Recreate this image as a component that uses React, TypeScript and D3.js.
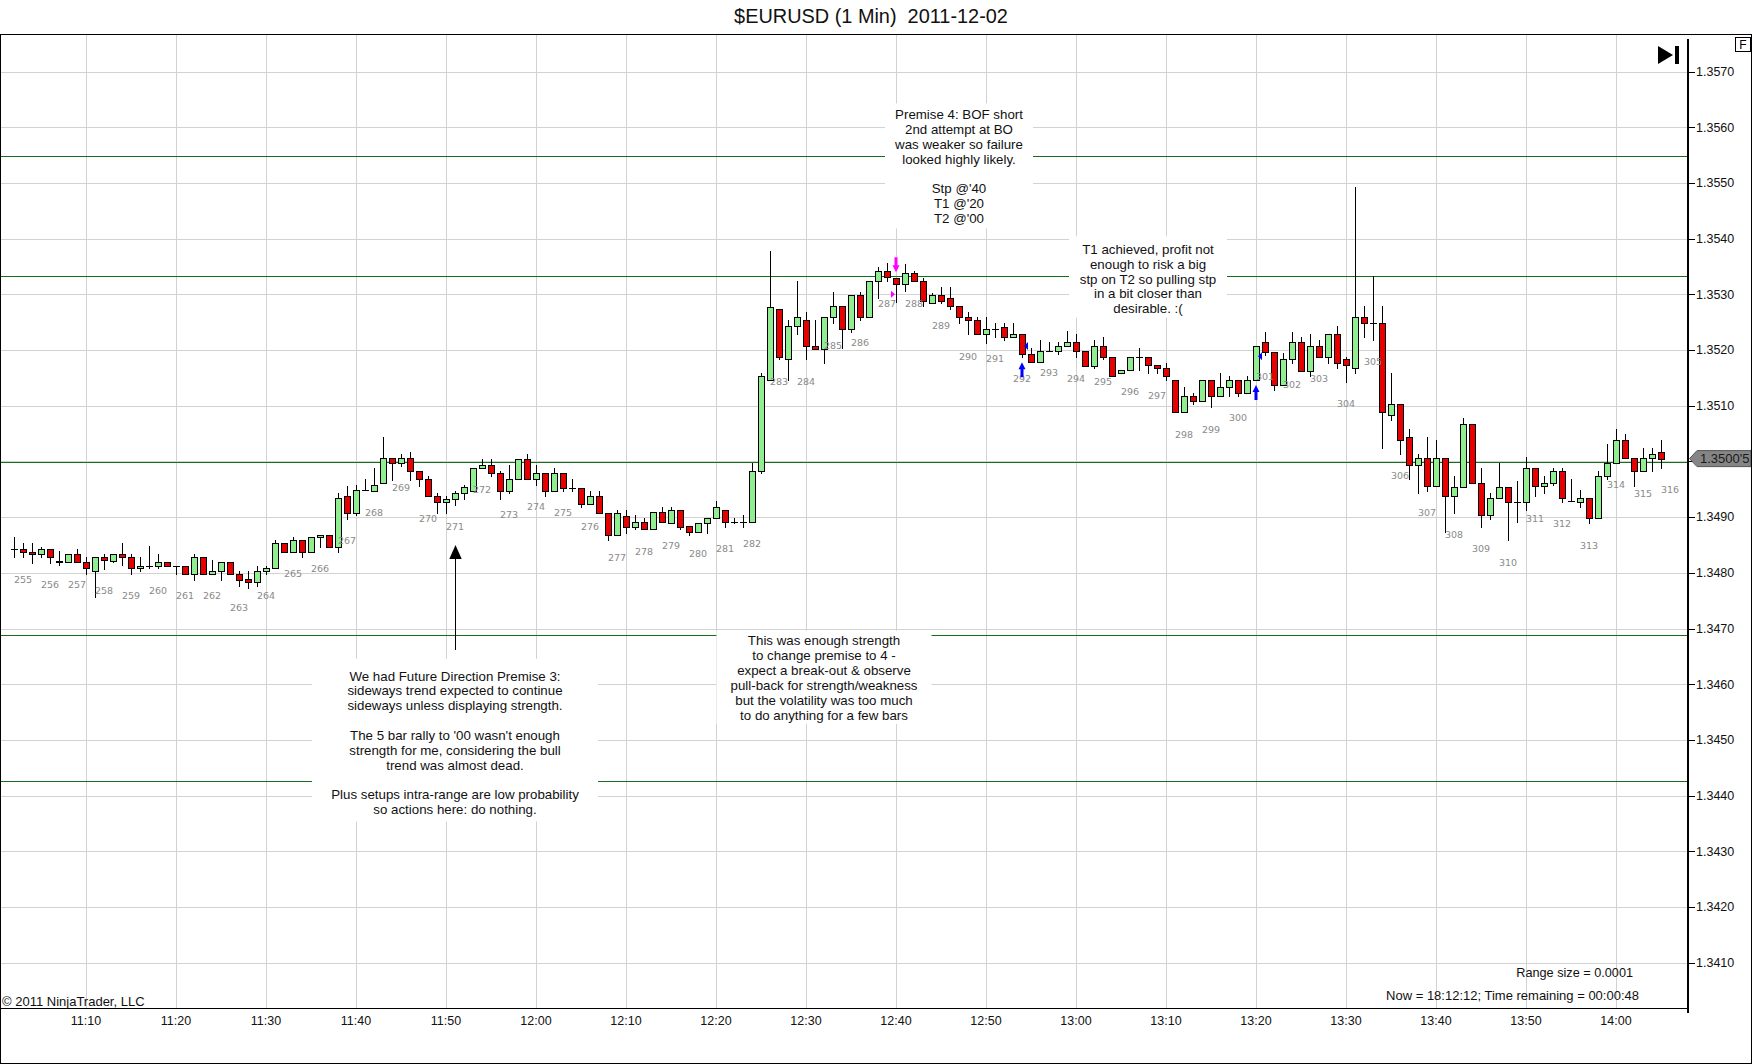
import React from 'react';
import * as d3 from 'd3';

const WIDTH = 1752;
const HEIGHT = 1064;

// 1-minute bars, first bar 11:02
const opens = [
  1.34842, 1.34842, 1.34838, 1.34834, 1.34842, 1.34822, 1.34819, 1.34833, 1.34819, 1.34803,
  1.34828, 1.34822, 1.34833, 1.34828, 1.34808, 1.34813, 1.34813, 1.34819, 1.34813, 1.34813,
  1.34798, 1.34828, 1.34798, 1.34803, 1.34819, 1.34798, 1.34788, 1.34783, 1.34803, 1.34808,
  1.34853, 1.34838, 1.34858, 1.34838, 1.34864, 1.34867, 1.34847, 1.34938, 1.34908, 1.34949,
  1.34947, 1.34962, 1.35007, 1.34998, 1.35007, 1.34982, 1.34968, 1.34937, 1.34928, 1.34933,
  1.34943, 1.34947, 1.34988, 1.34993, 1.34979, 1.34947, 1.34968, 1.35004, 1.34968, 1.34979,
  1.34947, 1.34979, 1.34953, 1.34953, 1.34923, 1.34938, 1.34908, 1.34867, 1.34902, 1.34883,
  1.34892, 1.34878, 1.34909, 1.34889, 1.34913, 1.34884, 1.34873, 1.34889, 1.34898, 1.34913,
  1.34892, 1.34892, 1.34892, 1.34983, 1.35147, 1.35273, 1.35183, 1.35243, 1.35254, 1.35208,
  1.35202, 1.35259, 1.35279, 1.35237, 1.35299, 1.35259, 1.35323, 1.35342, 1.35329, 1.35318,
  1.35338, 1.35324, 1.35284, 1.35298, 1.35293, 1.35279, 1.35259, 1.35254, 1.35228, 1.35237,
  1.35242, 1.35223, 1.35228, 1.35192, 1.35178, 1.35198, 1.35198, 1.35208, 1.35214, 1.35198,
  1.35172, 1.35208, 1.35188, 1.35158, 1.35164, 1.35188, 1.35188, 1.35173, 1.35167, 1.35147,
  1.35088, 1.35118, 1.35108, 1.35147, 1.35118, 1.35133, 1.35147, 1.35123, 1.35147, 1.35214,
  1.35197, 1.35138, 1.35183, 1.35214, 1.35163, 1.35208, 1.35188, 1.35228, 1.35183, 1.35167,
  1.35259, 1.35248, 1.35248, 1.35083, 1.35103, 1.35043, 1.34994, 1.35007, 1.34956, 1.35007,
  1.34937, 1.34954, 1.35068, 1.34962, 1.34903, 1.34934, 1.34954, 1.34928, 1.34928, 1.34988,
  1.34956, 1.34962, 1.34982, 1.34929, 1.34928, 1.34934, 1.34898, 1.34973, 1.34998, 1.35038,
  1.35007, 1.34982, 1.35007, 1.35017,
];

const highs = [
  1.34864, 1.34853, 1.34853, 1.34847, 1.34842, 1.34839, 1.34833, 1.34842, 1.34828, 1.34828,
  1.34834, 1.34833, 1.34854, 1.34833, 1.34828, 1.34848, 1.34834, 1.34819, 1.34813, 1.34813,
  1.34834, 1.34828, 1.34823, 1.34819, 1.34819, 1.34803, 1.34803, 1.34813, 1.34813, 1.34859,
  1.34853, 1.34864, 1.34858, 1.34864, 1.34867, 1.34867, 1.34943, 1.34955, 1.34958, 1.34968,
  1.34988, 1.35044, 1.35007, 1.35013, 1.35017, 1.34982, 1.34973, 1.34943, 1.34937, 1.34947,
  1.34958, 1.34988, 1.35004, 1.35004, 1.34983, 1.34993, 1.35004, 1.35013, 1.34993, 1.34979,
  1.34988, 1.34979, 1.34968, 1.34953, 1.34947, 1.34947, 1.34908, 1.34913, 1.34913, 1.34903,
  1.34898, 1.34909, 1.34919, 1.34919, 1.34913, 1.34884, 1.34889, 1.34898, 1.34929, 1.34913,
  1.34898, 1.34903, 1.34998, 1.35158, 1.35378, 1.35273, 1.35254, 1.35324, 1.35269, 1.35254,
  1.35259, 1.35305, 1.35279, 1.35299, 1.35305, 1.35323, 1.35349, 1.35357, 1.35329, 1.35354,
  1.35341, 1.35329, 1.35303, 1.35314, 1.35314, 1.35279, 1.35269, 1.35259, 1.35259, 1.35248,
  1.35248, 1.35248, 1.35228, 1.35203, 1.35218, 1.35214, 1.35214, 1.35234, 1.35228, 1.35198,
  1.35218, 1.35223, 1.35188, 1.35164, 1.35188, 1.35203, 1.35188, 1.35173, 1.35177, 1.35147,
  1.35133, 1.35122, 1.35147, 1.35147, 1.35159, 1.35153, 1.35147, 1.35153, 1.35208, 1.35233,
  1.35197, 1.35194, 1.35233, 1.35224, 1.35228, 1.35218, 1.35228, 1.35243, 1.35188, 1.35493,
  1.35279, 1.35332, 1.35279, 1.35158, 1.35103, 1.35058, 1.35013, 1.35044, 1.35038, 1.35007,
  1.34973, 1.35078, 1.35068, 1.34988, 1.34943, 1.34998, 1.34954, 1.34964, 1.35008, 1.34988,
  1.34973, 1.34988, 1.34988, 1.34968, 1.34949, 1.34934, 1.34982, 1.35032, 1.35058, 1.35049,
  1.35007, 1.35024, 1.35024, 1.35038,
];

const lows = [
  1.34828, 1.34828, 1.34818, 1.34828, 1.34818, 1.34814, 1.34819, 1.34819, 1.34798, 1.34757,
  1.34807, 1.34819, 1.34814, 1.34798, 1.34803, 1.34808, 1.34808, 1.34813, 1.34798, 1.34798,
  1.34787, 1.34798, 1.34798, 1.34787, 1.34798, 1.34777, 1.34772, 1.34777, 1.34798, 1.34808,
  1.34838, 1.34838, 1.34828, 1.34838, 1.34847, 1.34847, 1.34838, 1.34897, 1.34903, 1.34949,
  1.34947, 1.34962, 1.34967, 1.34992, 1.34967, 1.34956, 1.34937, 1.34908, 1.34908, 1.34922,
  1.34933, 1.34947, 1.34988, 1.34973, 1.34933, 1.34943, 1.34968, 1.34968, 1.34958, 1.34938,
  1.34947, 1.34947, 1.34947, 1.34918, 1.34923, 1.34908, 1.34858, 1.34867, 1.34872, 1.34878,
  1.34878, 1.34878, 1.34892, 1.34889, 1.34878, 1.34867, 1.34873, 1.34872, 1.34898, 1.34883,
  1.34889, 1.34883, 1.34892, 1.34979, 1.35147, 1.35183, 1.35147, 1.35228, 1.35183, 1.35202,
  1.35177, 1.35248, 1.35203, 1.35233, 1.35253, 1.35259, 1.35293, 1.35323, 1.35287, 1.35306,
  1.35323, 1.35279, 1.35284, 1.35284, 1.35274, 1.35248, 1.35228, 1.35228, 1.35213, 1.35224,
  1.35218, 1.35223, 1.35188, 1.35178, 1.35178, 1.35198, 1.35192, 1.35208, 1.35188, 1.35172,
  1.35167, 1.35183, 1.35153, 1.35158, 1.35164, 1.35164, 1.35158, 1.35158, 1.35147, 1.35088,
  1.35088, 1.35103, 1.35108, 1.35097, 1.35118, 1.35118, 1.35118, 1.35123, 1.35147, 1.35191,
  1.35128, 1.35138, 1.35177, 1.35163, 1.35153, 1.35188, 1.35177, 1.35167, 1.35143, 1.35158,
  1.35224, 1.35218, 1.35024, 1.35074, 1.35013, 1.34968, 1.34943, 1.34947, 1.34956, 1.34873,
  1.34908, 1.34954, 1.34962, 1.34883, 1.34897, 1.34934, 1.34858, 1.34892, 1.34913, 1.34937,
  1.34943, 1.34958, 1.34928, 1.34929, 1.34918, 1.34889, 1.34898, 1.34968, 1.34998, 1.35007,
  1.34956, 1.34982, 1.34982, 1.34988,
];

const closes = [
  1.34842, 1.34838, 1.34834, 1.34842, 1.34828, 1.34819, 1.34833, 1.34819, 1.34808, 1.34828,
  1.34823, 1.34833, 1.34828, 1.34808, 1.34813, 1.34813, 1.34819, 1.34813, 1.34813, 1.34798,
  1.34828, 1.34798, 1.34803, 1.34819, 1.34798, 1.34787, 1.34783, 1.34803, 1.34808, 1.34853,
  1.34838, 1.34858, 1.34838, 1.34864, 1.34867, 1.34847, 1.34934, 1.34908, 1.34949, 1.34949,
  1.34958, 1.35007, 1.34998, 1.35007, 1.34982, 1.34968, 1.34937, 1.34928, 1.34933, 1.34943,
  1.34954, 1.34988, 1.34993, 1.34979, 1.34947, 1.34968, 1.35004, 1.34968, 1.34979, 1.34947,
  1.34979, 1.34953, 1.34953, 1.34923, 1.34938, 1.34908, 1.34867, 1.34908, 1.34883, 1.34892,
  1.34878, 1.34909, 1.34892, 1.34913, 1.34883, 1.34873, 1.34889, 1.34898, 1.34918, 1.34892,
  1.34892, 1.34892, 1.34983, 1.35153, 1.35278, 1.35188, 1.35243, 1.35259, 1.35208, 1.35202,
  1.35259, 1.35279, 1.35237, 1.35299, 1.35259, 1.35323, 1.35342, 1.35331, 1.35318, 1.35338,
  1.35324, 1.35288, 1.35298, 1.35288, 1.35279, 1.35259, 1.35254, 1.35228, 1.35237, 1.35237,
  1.35223, 1.35228, 1.35192, 1.35178, 1.35198, 1.35198, 1.35208, 1.35214, 1.35198, 1.35172,
  1.35208, 1.35188, 1.35153, 1.35164, 1.35188, 1.35188, 1.35173, 1.35167, 1.35153, 1.35088,
  1.35118, 1.35108, 1.35147, 1.35118, 1.35133, 1.35147, 1.35123, 1.35147, 1.35208, 1.35197,
  1.35138, 1.35183, 1.35214, 1.35163, 1.35208, 1.35188, 1.35228, 1.35177, 1.35173, 1.35259,
  1.35248, 1.35248, 1.35088, 1.35103, 1.35038, 1.34994, 1.35007, 1.34956, 1.35007, 1.34937,
  1.34954, 1.35068, 1.34962, 1.34903, 1.34934, 1.34954, 1.34928, 1.34928, 1.34988, 1.34956,
  1.34962, 1.34982, 1.34934, 1.34929, 1.34934, 1.34898, 1.34973, 1.34998, 1.35038, 1.35007,
  1.34982, 1.35007, 1.35013, 1.35005,
];

// bar count labels, one every third bar
const barNumbers = [
  255, 256, 257, 258, 259, 260, 261, 262, 263, 264, 265, 266, 267, 268, 269, 270,
  271, 272, 273, 274, 275, 276, 277, 278, 279, 280, 281, 282, 283, 284, 285, 286,
  287, 288, 289, 290, 291, 292, 293, 294, 295, 296, 297, 298, 299, 300, 301, 302,
  303, 304, 305, 306, 307, 308, 309, 310, 311, 312, 313, 314, 315, 316,
];

const priceTicks = [
  1.341, 1.342, 1.343, 1.344, 1.345, 1.346, 1.347, 1.348, 1.349,
  1.35, 1.351, 1.352, 1.353, 1.354, 1.355, 1.356, 1.357,
];

// horizontal S/R lines
const levels = [1.35548, 1.35333, 1.34999, 1.34688, 1.34426];

const notes = [
  {
    bar: 105, price: 1.35623, width: 148, padTop: 11, padBottom: 10,
    lines: ['Premise 4: BOF short', '2nd attempt at BO', 'was weaker so failure', 'looked highly likely.', '', "Stp @'40", "T1 @'20", "T2 @'00"],
  },
  {
    bar: 126, price: 1.35381, width: 158, padTop: 13, padBottom: 9,
    lines: ['T1 achieved, profit not', 'enough to risk a big', 'stp on T2 so pulling stp', 'in a bit closer than', 'desirable. :('],
  },
  {
    bar: 49, price: 1.34615, width: 286, padTop: 17, padBottom: 12,
    lines: [
      'We had Future Direction Premise 3:', 'sideways trend expected to continue', 'sideways unless displaying strength.', '',
      "The 5 bar rally to '00 wasn't enough", 'strength for me, considering the bull', 'trend was almost dead.', '',
      'Plus setups intra-range are low probability', 'so actions here: do nothing.',
    ],
  },
  {
    bar: 90, price: 1.34678, width: 215, padTop: 10, padBottom: 9,
    lines: ['This was enough strength', 'to change premise to 4 -', 'expect a break-out & observe', 'pull-back for strength/weakness', 'but the volatility was too much', 'to do anything for a few bars'],
  },
];

export default function App() {
  const svgRef = React.useRef<SVGSVGElement | null>(null);

  React.useEffect(() => {
    if (!svgRef.current) return;
    const svg = d3.select(svgRef.current);
    svg.selectAll('*').remove();

    const sans = '"Liberation Sans", Arial, sans-serif';
    const t0 = new Date(2011, 11, 2, 11, 2).getTime();
    const timeAt = (i: number) => new Date(t0 + i * 60000);
    const bars = opens.map((o, i) => ({ i, t: timeAt(i), o, h: highs[i], l: lows[i], c: closes[i] }));

    const plot = { left: 0, right: 1688, top: 34, bottom: 1008 };

    const x = d3.scaleTime().domain([timeAt(0), timeAt(bars.length - 1)]).range([14, 1661]);
    const y = d3.scaleLinear().domain([1.341, 1.357]).range([962.7, 71.5]);
    const px = (v: number) => Math.round(v) + 0.5;

    svg.append('rect').attr('width', WIDTH).attr('height', HEIGHT).attr('fill', '#fff');

    // Grid
    const timeTicks = x.ticks(d3.timeMinute.every(10)!);
    const grid = svg.append('g').attr('stroke', '#d2d2d2').attr('shape-rendering', 'crispEdges');
    grid.append('g').selectAll('line').data(timeTicks).join('line')
      .attr('x1', d => px(x(d))).attr('x2', d => px(x(d)))
      .attr('y1', plot.top).attr('y2', plot.bottom);
    grid.append('g').selectAll('line').data(priceTicks).join('line')
      .attr('x1', plot.left).attr('x2', plot.right)
      .attr('y1', d => px(y(d))).attr('y2', d => px(y(d)));

    // Levels
    svg.append('g').attr('stroke', '#12701a').attr('shape-rendering', 'crispEdges')
      .selectAll('line').data(levels).join('line')
      .attr('x1', plot.left).attr('x2', plot.right)
      .attr('y1', d => px(y(d))).attr('y2', d => px(y(d)));

    // Text notes
    const lineH = 14.85;
    const noteG = svg.append('g');
    notes.forEach(n => {
      const cx = x(timeAt(n.bar));
      const y0 = y(n.price);
      const yEnd = y0 + (n.lines.length - 1) * lineH;
      noteG.append('rect')
        .attr('x', cx - n.width / 2).attr('width', n.width)
        .attr('y', y0 - n.padTop).attr('height', yEnd - y0 + n.padTop + n.padBottom)
        .attr('fill', '#fff');
      n.lines.forEach((s, k) => {
        if (!s) return;
        noteG.append('text')
          .attr('x', cx).attr('y', y0 + k * lineH).attr('dy', '0.35em')
          .attr('text-anchor', 'middle').attr('font-family', sans).attr('font-size', 13.3)
          .attr('fill', '#111').text(s);
      });
    });

    // Arrow pointing at bar 271 area
    const ax = px(x(timeAt(49)));
    const aTip = y(1.3485);
    const aBase = y(1.34661);
    svg.append('line').attr('x1', ax).attr('x2', ax).attr('y1', aTip + 10).attr('y2', aBase)
      .attr('stroke', '#000').attr('shape-rendering', 'crispEdges');
    svg.append('path')
      .attr('d', `M${ax},${aTip} L${ax + 6.2},${aTip + 14} L${ax - 6.2},${aTip + 14} Z`)
      .attr('fill', '#000');

    // Candles
    const cg = svg.append('g').attr('shape-rendering', 'crispEdges');
    bars.forEach(b => {
      const cx = px(x(b.t));
      cg.append('line').attr('x1', cx).attr('x2', cx)
        .attr('y1', Math.round(y(b.h))).attr('y2', Math.round(y(b.l)) + 1)
        .attr('stroke', '#000');
      if (b.o === b.c) {
        const yy = px(y(b.o));
        cg.append('line').attr('x1', cx - 3.5).attr('x2', cx + 3.5).attr('y1', yy).attr('y2', yy).attr('stroke', '#000');
      } else {
        const top = px(y(Math.max(b.o, b.c)));
        const bot = px(y(Math.min(b.o, b.c)));
        cg.append('rect')
          .attr('x', cx - 3).attr('width', 6)
          .attr('y', top).attr('height', Math.max(1, bot - top))
          .attr('fill', b.c > b.o ? '#90ee90' : '#e60000')
          .attr('stroke', '#000');
      }
    });

    // Bar numbers
    svg.append('g').selectAll('text').data(barNumbers).join('text')
      .attr('x', (_, k) => x(timeAt(1 + 3 * k)))
      .attr('y', (_, k) => y(bars[Math.min(1 + 3 * k, bars.length - 1)].l) + 22)
      .attr('dy', '0.35em')
      .attr('text-anchor', 'middle')
      .attr('font-family', '"DejaVu Sans", Verdana, sans-serif')
      .attr('font-size', 9.5)
      .attr('fill', '#8a8a8a')
      .text(d => d);

    // Trade markers
    const upArrow = (cx: number, ty: number) =>
      `M${cx},${ty} L${cx + 3.5},${ty + 7} L${cx + 1.5},${ty + 7} L${cx + 1.5},${ty + 15} L${cx - 1.5},${ty + 15} L${cx - 1.5},${ty + 7} L${cx - 3.5},${ty + 7} Z`;
    const downArrow = (cx: number, ty: number) =>
      `M${cx},${ty} L${cx + 3.5},${ty - 7} L${cx + 1.5},${ty - 7} L${cx + 1.5},${ty - 15} L${cx - 1.5},${ty - 15} L${cx - 1.5},${ty - 7} L${cx - 3.5},${ty - 7} Z`;
    const mg = svg.append('g');
    const b98 = bars[98];
    mg.append('path').attr('d', downArrow(x(b98.t), y(b98.h) - 6)).attr('fill', '#ff00ff');
    const mx = x(b98.t) - 1;
    const my = y(1.353);
    mg.append('path').attr('d', `M${mx - 4},${my - 3.5} L${mx},${my} L${mx - 4},${my + 3.5} Z`).attr('fill', '#ff00ff');
    [
      { bar: 112, exit: 1.35207 },
      { bar: 138, exit: 1.35189 },
    ].forEach(e => {
      const b = bars[e.bar];
      mg.append('path').attr('d', upArrow(x(b.t), y(b.l) + 5.5)).attr('fill', '#0000ff');
      const ex = x(b.t) + 2;
      const ey = y(e.exit);
      mg.append('path').attr('d', `M${ex + 4},${ey - 4} L${ex},${ey} L${ex + 4},${ey + 4} Z`).attr('fill', '#0000ff');
    });

    // Price axis
    const lp = closes[closes.length - 1];
    const ly = y(lp);
    const axisG = svg.append('g').attr('shape-rendering', 'crispEdges');
    axisG.append('line').attr('x1', plot.right).attr('x2', plot.right).attr('y1', 39).attr('y2', 1013)
      .attr('stroke', '#000').attr('stroke-width', 2);
    axisG.selectAll('line.tick').data(priceTicks).join('line').attr('class', 'tick')
      .attr('x1', plot.right).attr('x2', plot.right + 7)
      .attr('y1', d => px(y(d))).attr('y2', d => px(y(d)))
      .attr('stroke', '#000');
    // the last-price tag hides the tick label it sits on
    svg.append('g').selectAll('text').data(priceTicks.filter(d => Math.abs(y(d) - ly) > 12)).join('text')
      .attr('x', plot.right + 8).attr('y', d => y(d)).attr('dy', '0.35em')
      .attr('font-family', sans).attr('font-size', 12.5).attr('fill', '#111')
      .text(d => d3.format('.4f')(d));

    // Last price tag
    svg.append('path')
      .attr('d', `M${plot.right + 1.5},${ly} L${plot.right + 9},${ly - 8} L${WIDTH - 1},${ly - 8} L${WIDTH - 1},${ly + 8} L${plot.right + 9},${ly + 8} Z`)
      .attr('fill', '#858585').attr('stroke', '#555');
    svg.append('text')
      .attr('x', plot.right + 12).attr('y', ly).attr('dy', '0.36em')
      .attr('font-family', sans).attr('font-size', 13).attr('fill', '#1a1a1a')
      .text(d3.format('.4f')(Math.floor(lp * 10000) / 10000) + "'" + Math.round((lp * 10000 - Math.floor(lp * 10000)) * 10));

    // Time axis
    svg.append('line').attr('x1', 0).attr('x2', plot.right).attr('y1', plot.bottom + 0.5).attr('y2', plot.bottom + 0.5)
      .attr('stroke', '#000').attr('stroke-width', 1.5).attr('shape-rendering', 'crispEdges');
    svg.append('g').selectAll('text').data(timeTicks).join('text')
      .attr('x', d => x(d)).attr('y', 1021).attr('dy', '0.35em')
      .attr('text-anchor', 'middle').attr('font-family', sans).attr('font-size', 12.5).attr('fill', '#111')
      .text(d => d3.timeFormat('%H:%M')(d));

    // Frame
    const frame = svg.append('g').attr('stroke', '#000').attr('shape-rendering', 'crispEdges');
    frame.append('line').attr('x1', 0).attr('x2', WIDTH).attr('y1', 34.5).attr('y2', 34.5);
    frame.append('line').attr('x1', 0.5).attr('x2', 0.5).attr('y1', 34).attr('y2', HEIGHT);
    frame.append('line').attr('x1', 0).attr('x2', WIDTH).attr('y1', HEIGHT - 0.5).attr('y2', HEIGHT - 0.5);
    frame.append('line').attr('x1', WIDTH - 0.5).attr('x2', WIDTH - 0.5).attr('y1', 34).attr('y2', HEIGHT);

    // Title
    svg.append('text')
      .attr('x', 871).attr('y', 16).attr('dy', '0.35em').attr('text-anchor', 'middle')
      .attr('font-family', sans).attr('font-size', 19.9).attr('fill', '#111')
      .style('white-space', 'pre')
      .text('$EURUSD (1 Min)  2011-12-02');

    // Corner widgets
    svg.append('path').attr('d', 'M1658,46 L1673,55 L1658,64 Z').attr('fill', '#000');
    svg.append('rect').attr('x', 1675).attr('y', 46).attr('width', 4).attr('height', 18).attr('fill', '#000');
    svg.append('rect').attr('x', 1735.5).attr('y', 37.5).attr('width', 15).attr('height', 14)
      .attr('fill', '#fff').attr('stroke', '#000').attr('shape-rendering', 'crispEdges');
    svg.append('text').attr('x', 1743).attr('y', 44.5).attr('dy', '0.35em').attr('text-anchor', 'middle')
      .attr('font-family', sans).attr('font-size', 12).text('F');

    // Footer texts
    svg.append('text').attr('x', 1633).attr('y', 973).attr('dy', '0.35em').attr('text-anchor', 'end')
      .attr('font-family', sans).attr('font-size', 12.7).attr('fill', '#111').text('Range size = 0.0001');
    svg.append('text').attr('x', 1639).attr('y', 995).attr('dy', '0.35em').attr('text-anchor', 'end')
      .attr('font-family', sans).attr('font-size', 13).attr('fill', '#111').text('Now = 18:12:12; Time remaining = 00:00:48');
    svg.append('text').attr('x', 2).attr('y', 1001).attr('dy', '0.35em')
      .attr('font-family', sans).attr('font-size', 13).attr('fill', '#111').text('\u00a9 2011 NinjaTrader, LLC');
  }, []);

  return (
    <svg
      ref={svgRef}
      width={WIDTH}
      height={HEIGHT}
      style={{ position: 'absolute', left: 0, top: 0, display: 'block' }}
    />
  );
}
